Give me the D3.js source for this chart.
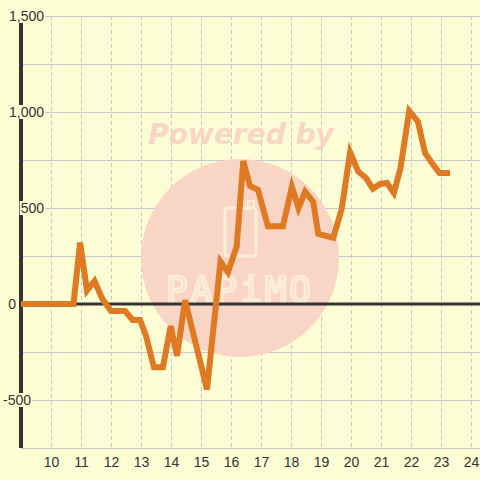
<!DOCTYPE html>
<html><head><meta charset="utf-8">
<script src="https://cdn.jsdelivr.net/npm/d3@7"></script>
<style>html,body{margin:0;padding:0;background:#fcfdd4;}svg{display:block;}</style>
</head><body>
<svg id="c" width="480" height="480"></svg>
<script>
// Data
const xValues = [9.0, 10.75, 10.97, 11.2, 11.45, 11.7, 12.0, 12.47, 12.72, 12.97, 13.17, 13.43, 13.73, 13.99, 14.2, 14.47, 15.2, 15.65, 15.9, 16.19, 16.41, 16.63, 16.9, 17.23, 17.73, 18.03, 18.25, 18.47, 18.74, 18.91, 19.41, 19.69, 19.97, 20.24, 20.5, 20.73, 20.97, 21.2, 21.43, 21.65, 21.94, 22.23, 22.47, 22.7, 22.95, 23.3];
const yValues = [0, 0, 320, 70, 120, 30, -37, -37, -83, -83, -167, -330, -330, -115, -270, 20, -445, 220, 165, 300, 745, 615, 595, 405, 405, 610, 500, 585, 533, 365, 344, 495, 790, 690, 656, 600, 625, 630, 578, 708, 1005, 950, 786, 734, 682, 682];
const yGridValues = [1500, 1250, 1000, 750, 500, 250, -250, -500, -750];
const yLabelValues = [1500, 1000, 500, 0, -500];
const xTickValues = [10, 11, 12, 13, 14, 15, 16, 17, 18, 19, 20, 21, 22, 23, 24];

const bg = "#fcfdd4";
const svg = d3.select("#c");
svg.append("rect").attr("width", 480).attr("height", 480).attr("fill", bg);

const x = d3.scaleLinear().domain([9, 24.3]).range([21, 480]);
const y = d3.scaleLinear().domain([-750, 1500]).range([448, 16]);

// vertical dashed grid
svg.append("g").selectAll("line").data(xTickValues).join("line")
  .attr("x1", d => x(d) + 0.5).attr("x2", d => x(d) + 0.5)
  .attr("y1", y(1500)).attr("y2", y(-750))
  .attr("stroke", "#c8c8c8").attr("stroke-width", 1).attr("stroke-dasharray", "4,3");

// horizontal grid
svg.append("g").selectAll("line").data(yGridValues).join("line")
  .attr("x1", x(9)).attr("x2", 480)
  .attr("y1", d => y(d) + 0.5).attr("y2", d => y(d) + 0.5)
  .attr("stroke", "#c8c8c8").attr("stroke-width", 1);

// watermark
const wm = svg.append("g");
wm.append("circle").attr("cx", 240).attr("cy", 258).attr("r", 99).attr("fill", "#f9d5c5");
wm.append("text").attr("x", 241).attr("y", 144).attr("text-anchor", "middle")
  .attr("font-family", "DejaVu Sans").attr("font-weight", "bold").attr("font-style", "italic")
  .attr("font-size", 28).attr("fill", "#f9d5c5").text("Powered by");
wm.append("rect").attr("x", 225).attr("y", 208).attr("width", 31).attr("height", 48).attr("rx", 3)
  .attr("fill", "none").attr("stroke", "#fbeed6").attr("stroke-width", 3);
wm.append("rect").attr("x", 248).attr("y", 201).attr("width", 6).attr("height", 8)
  .attr("fill", "none").attr("stroke", "#fbeed6").attr("stroke-width", 2);
wm.append("text").attr("x", 240).attr("y", 302).attr("text-anchor", "middle")
  .attr("font-family", "DejaVu Sans Mono").attr("font-size", 36).attr("letter-spacing", 3)
  .attr("fill", "none").attr("stroke", "#fbeed6").attr("stroke-width", 2.5).text("PAPiMO");

// zero line
svg.append("line").attr("x1", x(9) - 1).attr("x2", 480).attr("y1", y(0)).attr("y2", y(0))
  .attr("stroke", "#333").attr("stroke-width", 3);

// y axis line
svg.append("line").attr("x1", x(9)).attr("x2", x(9)).attr("y1", y(1500)).attr("y2", y(-750))
  .attr("stroke", "#333").attr("stroke-width", 4);

// data line
const line = d3.line().x((d, i) => x(xValues[i])).y(d => y(d));
svg.append("path").datum(yValues).attr("d", line)
  .attr("fill", "none").attr("stroke", "#df7a22").attr("stroke-width", 6)
  .attr("stroke-linejoin", "miter");

// y labels with background
const yl = svg.append("g").attr("font-family", "Liberation Sans, Arial, sans-serif").attr("font-size", 14).attr("fill", "#333");
yLabelValues.forEach(v => {
  const t = d3.format(",")(v).replace("−", "-");
  const endX = v > 0 ? 44 : (v === 0 ? 16 : 31);
  const g = yl.append("g");
  const txt = g.append("text").attr("x", endX).attr("y", y(v) + 5).attr("text-anchor", "end").text(t);
  const w = txt.node().getComputedTextLength();
  g.insert("rect", "text").attr("x", endX - w - 1).attr("y", y(v) - 7).attr("width", w + 2).attr("height", 14).attr("fill", bg);
});

// x labels
svg.append("g").selectAll("text").data(xTickValues).join("text")
  .attr("x", d => x(d) + 0.5).attr("y", 467).attr("text-anchor", "middle")
  .attr("font-family", "Liberation Sans, Arial, sans-serif").attr("font-size", 14).attr("fill", "#333")
  .text(d => d);
</script>
</body></html>
